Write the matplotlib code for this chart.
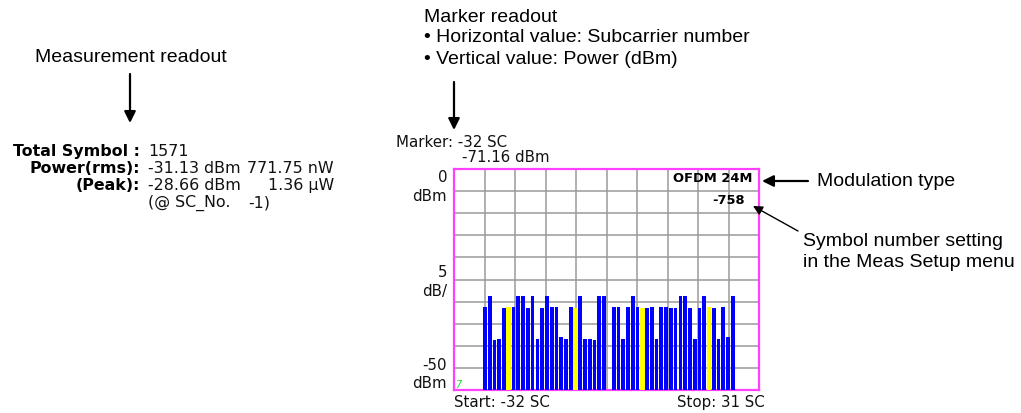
import matplotlib
matplotlib.use("Agg")
import matplotlib.pyplot as plt
import numpy as np

# subcarriers shown (-26..26 without DC), pilots drawn in yellow
subcarriers = list(range(-26, 0)) + list(range(1, 27))
pilots = [-21, -7, 7, 21]
power_dbm = [
    -31.3, -28.8, -38.6, -38.5, -31.5, -31.3, -31.3, -28.8, -28.8, -31.5,
    -28.8, -38.5, -31.5, -28.8, -31.3, -31.3, -38.1, -38.5, -31.3, -31.5,
    -28.8, -38.5, -38.5, -38.6, -28.8, -28.66,
    -31.3, -31.3, -38.5, -31.3, -28.8, -31.3, -31.5, -31.5, -31.3, -38.5,
    -31.3, -31.3, -31.5, -31.5, -28.7, -28.8, -31.5, -38.5, -31.5, -28.7,
    -31.3, -31.5, -38.5, -31.3, -38.1, -28.7,
]
ref_level = 0
bottom_level = -50
sc_start, sc_stop = -32, 31

W, H = 1021, 414
fig = plt.figure(figsize=(W / 100, H / 100), dpi=100)

# spectrum box
ax = fig.add_axes([454 / W, 1 - 391 / H, 305 / W, 221 / H])
xs = np.array(subcarriers)
vals = np.array(power_dbm)
is_pilot = np.isin(xs, pilots)
ax.bar(xs[~is_pilot], vals[~is_pilot] - bottom_level, bottom=bottom_level,
       width=0.78, color="#0000ff", zorder=3)
ax.bar(xs[is_pilot], vals[is_pilot] - bottom_level, bottom=bottom_level,
       width=1.0, color="#ffff00", zorder=3)
ax.set_xlim(sc_start - 0.5, sc_stop + 0.5)
ax.set_ylim(bottom_level, ref_level)
ax.set_xticks(np.linspace(sc_start - 0.5, sc_stop + 0.5, 11))
ax.set_yticks(np.linspace(bottom_level, ref_level, 11))
ax.tick_params(length=0, labelbottom=False, labelleft=False)
ax.grid(True, color="#9a9a9a", lw=1.1)
for s in ax.spines.values():
    s.set_color("#ff40ff")
    s.set_linewidth(1.6)
ax.text(sc_start - 0.3, bottom_level + 0.2, "7", color="#22dd22", fontsize=7,
        style="italic", ha="left", va="bottom", zorder=4)

# overlay in pixel coordinates for text and arrows
ov = fig.add_axes([0, 0, 1, 1], facecolor="none")
ov.set_xlim(0, W)
ov.set_ylim(H, 0)
ov.axis("off")

inst = dict(family="DejaVu Sans", fontsize=10.8, va="center", color="#111111")
ov.text(396, 143, "Marker: -32 SC", ha="left", **inst)
ov.text(462, 158, "-71.16 dBm", ha="left", **inst)
ov.text(447, 178, "0", ha="right", **inst)
ov.text(447, 197, "dBm", ha="right", **inst)
ov.text(447, 273, "5", ha="right", **inst)
ov.text(447, 292, "dB/", ha="right", **inst)
ov.text(447, 366, "-50", ha="right", **inst)
ov.text(447, 384, "dBm", ha="right", **inst)
ov.text(454, 403, "Start: -32 SC", ha="left", **inst)
ov.text(765, 403, "Stop: 31 SC", ha="right", **inst)

hdr = dict(family="DejaVu Sans", fontsize=9.4, fontweight="bold", va="center",
           ha="right")
ov.text(752, 179, "OFDM 24M", **hdr)
ov.text(745, 201, "-758", **hdr)

# measurement readout
bold = dict(family="DejaVu Sans", fontsize=11.4, fontweight="bold", va="center")
norm = dict(family="DejaVu Sans", fontsize=11.4, va="center", color="#111111")
ov.text(140, 152, "Total Symbol :", ha="right", **bold)
ov.text(148, 152, "1571", ha="left", **norm)
ov.text(140, 169, "Power(rms):", ha="right", **bold)
ov.text(148, 169, "-31.13 dBm", ha="left", **norm)
ov.text(334, 169, "771.75 nW", ha="right", **norm)
ov.text(140, 186, "(Peak):", ha="right", **bold)
ov.text(148, 186, "-28.66 dBm", ha="left", **norm)
ov.text(334, 186, "1.36 \u00b5W", ha="right", **norm)
ov.text(148, 203, "(@ SC_No.", ha="left", **norm)
ov.text(248, 203, "-1)", ha="left", **norm)

# callouts
note = dict(family="Liberation Sans", fontsize=14, va="center", color="black")
arrow = dict(arrowstyle="-|>", color="black", lw=1.6, mutation_scale=17,
             shrinkA=0, shrinkB=0)
ov.text(35, 57, "Measurement readout", ha="left", **note)
ov.annotate("", xy=(130, 124), xytext=(130, 75), arrowprops=arrow)

ov.text(424, 17, "Marker readout", ha="left", **note)
ov.text(424, 38, "\u2022 Horizontal value: Subcarrier number", ha="left", **note)
ov.text(424, 59, "\u2022 Vertical value: Power (dBm)", ha="left", **note)
ov.annotate("", xy=(454, 131), xytext=(454, 83), arrowprops=arrow)

ov.text(817, 182, "Modulation type", ha="left", **note)
ov.annotate("", xy=(762, 182), xytext=(808, 182), arrowprops=arrow)

ov.text(803, 242, "Symbol number setting", ha="left", **note)
ov.text(803, 263, "in the Meas Setup menu", ha="left", **note)
ov.annotate("", xy=(753, 207), xytext=(798, 232),
            arrowprops=dict(arrowstyle="-|>", color="black", lw=1.0,
                            mutation_scale=14, shrinkA=0, shrinkB=0))

fig.savefig("out.png", dpi=100)
